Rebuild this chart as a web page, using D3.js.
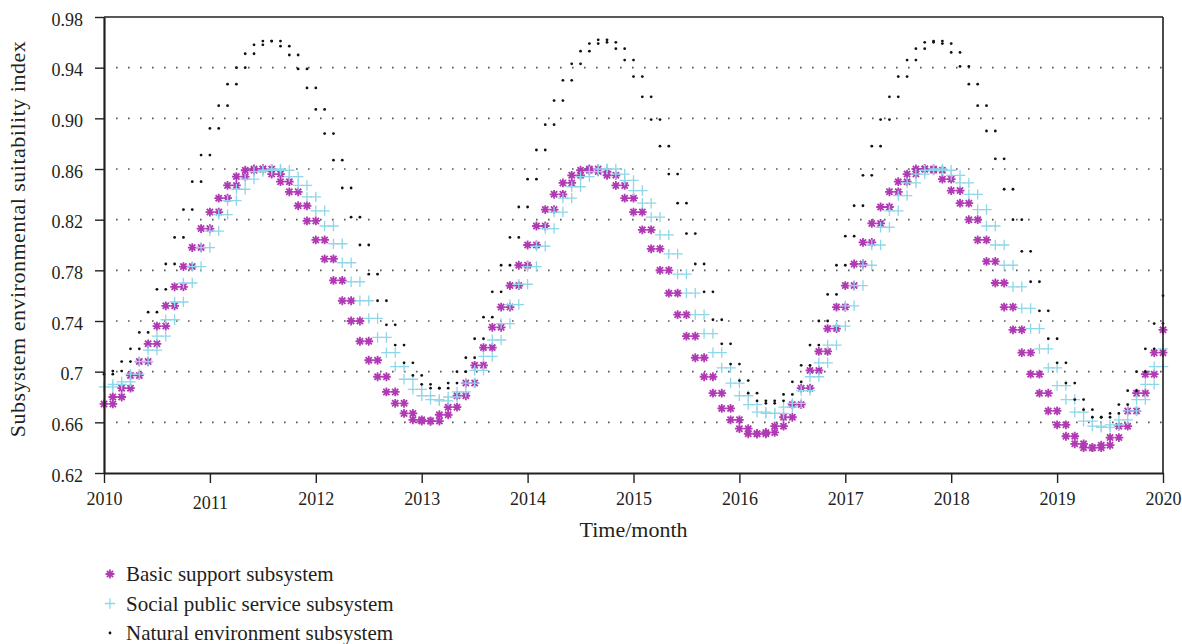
<!DOCTYPE html>
<html>
<head>
<meta charset="utf-8">
<script src="https://cdn.jsdelivr.net/npm/d3@7"></script>
<style>
  html, body { margin: 0; padding: 0; background: #fff; }
  svg { display: block; }
  text { font-family: "Liberation Serif", "Times New Roman", serif; fill: #231f20; }
</style>
</head>
<body>
<svg id="chart" width="1182" height="644"></svg>
<script>
// Monthly index values, January 2010 onwards (121 months, up to January 2020)
const basicSupport = [
  0.6745, 0.680, 0.687, 0.697, 0.708, 0.722, 0.736, 0.752, 0.767, 0.783, 0.798, 0.813,
  0.826, 0.837, 0.847, 0.854, 0.859, 0.860, 0.860, 0.856, 0.850, 0.842, 0.831, 0.819,
  0.804, 0.789, 0.772, 0.756, 0.740, 0.724, 0.709, 0.696, 0.684, 0.675, 0.667, 0.662,
  0.661, 0.661, 0.666, 0.672, 0.681, 0.691, 0.705, 0.719, 0.735, 0.751, 0.768, 0.784,
  0.800, 0.815, 0.828, 0.840, 0.849, 0.855, 0.859, 0.860, 0.858, 0.855, 0.847, 0.837,
  0.826, 0.812, 0.797, 0.780, 0.762, 0.745, 0.728, 0.711, 0.696, 0.683, 0.671, 0.662,
  0.655, 0.651, 0.651, 0.652, 0.657, 0.664, 0.674, 0.687, 0.701, 0.716, 0.734, 0.751,
  0.768, 0.785, 0.802, 0.817, 0.830, 0.842, 0.850, 0.856, 0.860, 0.860, 0.859, 0.852,
  0.843, 0.833, 0.820, 0.804, 0.787, 0.770, 0.751, 0.733, 0.715, 0.698, 0.683, 0.669,
  0.658, 0.649, 0.643, 0.640, 0.640, 0.642, 0.648, 0.657, 0.669, 0.683, 0.698, 0.715,
  0.733
];
const socialService = [
  0.688, 0.690, 0.692, 0.698, 0.708, 0.717, 0.728, 0.741, 0.755, 0.770, 0.783, 0.798,
  0.811, 0.824, 0.835, 0.844, 0.852, 0.858, 0.859, 0.860, 0.859, 0.854, 0.847, 0.838,
  0.827, 0.815, 0.801, 0.786, 0.771, 0.756, 0.742, 0.727, 0.715, 0.704, 0.694, 0.686,
  0.681, 0.678, 0.677, 0.680, 0.684, 0.691, 0.701, 0.712, 0.725, 0.738, 0.753, 0.769,
  0.783, 0.799, 0.813, 0.826, 0.837, 0.846, 0.854, 0.858, 0.860, 0.860, 0.856, 0.851,
  0.843, 0.833, 0.822, 0.808, 0.793, 0.777, 0.762, 0.745, 0.730, 0.715, 0.703, 0.691,
  0.681, 0.674, 0.668, 0.667, 0.667, 0.672, 0.675, 0.685, 0.696, 0.707, 0.721, 0.736,
  0.752, 0.768, 0.784, 0.800, 0.814, 0.827, 0.839, 0.849, 0.856, 0.859, 0.860, 0.859,
  0.855, 0.849, 0.840, 0.828, 0.815, 0.800, 0.784, 0.767, 0.750, 0.734, 0.718, 0.703,
  0.689, 0.678, 0.668, 0.661, 0.657, 0.656, 0.658, 0.662, 0.669, 0.678, 0.690, 0.704,
  0.718
];
const naturalEnv = [
  0.698, 0.7005, 0.708, 0.718, 0.731, 0.747, 0.765, 0.785, 0.806, 0.828, 0.850, 0.871,
  0.892, 0.910, 0.927, 0.940, 0.951, 0.958, 0.961, 0.961, 0.957, 0.950, 0.939, 0.924,
  0.907, 0.888, 0.867, 0.845, 0.822, 0.800, 0.777, 0.756, 0.737, 0.721, 0.707, 0.697,
  0.690, 0.687, 0.687, 0.691, 0.700, 0.711, 0.726, 0.743, 0.763, 0.784, 0.806, 0.830,
  0.852, 0.875, 0.895, 0.914, 0.930, 0.943, 0.953, 0.959, 0.962, 0.960, 0.955, 0.946,
  0.933, 0.917, 0.899, 0.878, 0.856, 0.833, 0.809, 0.785, 0.763, 0.741, 0.722, 0.706,
  0.693, 0.683, 0.677, 0.675, 0.677, 0.682, 0.692, 0.705, 0.721, 0.740, 0.761, 0.784,
  0.807, 0.831, 0.855, 0.878, 0.899, 0.917, 0.933, 0.946, 0.955, 0.960, 0.961, 0.959,
  0.952, 0.941, 0.927, 0.910, 0.890, 0.868, 0.844, 0.820, 0.795, 0.771, 0.748, 0.726,
  0.707, 0.691, 0.678, 0.670, 0.664, 0.664, 0.667, 0.674, 0.685, 0.700, 0.718, 0.738,
  0.760
];

const yearTicks = [2010, 2011, 2012, 2013, 2014, 2015, 2016, 2017, 2018, 2019, 2020];
const yTickValues = [0.98, 0.94, 0.90, 0.86, 0.82, 0.78, 0.74, 0.70, 0.66, 0.62];
const yTickLabels = ["0.98", "0.94", "0.90", "0.86", "0.82", "0.78", "0.74", "0.7", "0.66", "0.62"];

const seriesNames = ["Basic support subsystem", "Social public service subsystem", "Natural environment subsystem"];
const seriesColors = ["#b13ab4", "#8fd6e8", "#111111"];

const startYear = 2010;

const W = 1182, H = 644;
const margin = { top: 17, right: 19, bottom: 171, left: 104 };
const iw = W - margin.left - margin.right;
const ih = H - margin.top - margin.bottom;

const svg = d3.select("#chart");
const g = svg.append("g").attr("transform", `translate(${margin.left},${margin.top})`);

const x = d3.scaleLinear().domain([2010, 2020]).range([0, iw]);
const y = d3.scaleLinear().domain([0.62, 0.98]).range([ih, 0]);

// Dotted horizontal grid
g.append("g").selectAll("line")
  .data(yTickValues.filter(v => v < 0.979 && v > 0.621))
  .join("line")
  .attr("x1", 12).attr("x2", iw)
  .attr("y1", d => y(d)).attr("y2", d => y(d))
  .attr("stroke", "#555").attr("stroke-width", 1.6)
  .attr("stroke-dasharray", "1.6 10.4");

// Each monthly value is marked at the start and at the end of its month
function markPoints(values) {
  const pts = [];
  values.forEach((v, i) => {
    [i, i + 1].forEach(m => {
      const t = startYear + m / 12;
      if (t <= 2020 + 1e-9) pts.push({ t, v });
    });
  });
  return pts;
}

const asteriskPath = (() => {
  const r = 4.4, d = r * 0.7071;
  return `M${-r},0L${r},0M0,${-r}L0,${r}M${-d},${-d}L${d},${d}M${-d},${d}L${d},${-d}`;
})();
const plusPath = (() => {
  const r = 5.2;
  return `M${-r},0L${r},0M0,${-r}L0,${r}`;
})();

const plot = g.append("g");

plot.append("g").selectAll("path")
  .data(markPoints(basicSupport))
  .join("path")
  .attr("transform", d => `translate(${x(d.t)},${y(d.v)})`)
  .attr("d", asteriskPath)
  .attr("fill", "none")
  .attr("stroke", seriesColors[0])
  .attr("stroke-width", 1.8);

plot.append("g").selectAll("path")
  .data(markPoints(socialService))
  .join("path")
  .attr("transform", d => `translate(${x(d.t)},${y(d.v)})`)
  .attr("d", plusPath)
  .attr("fill", "none")
  .attr("stroke", seriesColors[1])
  .attr("stroke-width", 1.3);

plot.append("g").selectAll("circle")
  .data(markPoints(naturalEnv))
  .join("circle")
  .attr("cx", d => x(d.t))
  .attr("cy", d => y(d.v))
  .attr("r", 1.4)
  .attr("fill", seriesColors[2]);

// Frame: top and right edges
g.append("line").attr("x1", 0).attr("x2", iw).attr("y1", 0).attr("y2", 0)
  .attr("stroke", "#231f20").attr("stroke-width", 1.6);
g.append("line").attr("x1", iw).attr("x2", iw).attr("y1", 0).attr("y2", ih)
  .attr("stroke", "#231f20").attr("stroke-width", 1.6);

// Axes
const xAxis = d3.axisBottom(x).tickValues(yearTicks).tickFormat(d3.format("d"))
  .tickSizeInner(10).tickSizeOuter(0).tickPadding(8);
const yAxis = d3.axisLeft(y).tickValues(yTickValues)
  .tickFormat((d, i) => yTickLabels[i]).tickSizeInner(9).tickSizeOuter(0).tickPadding(12);

const gx = g.append("g").attr("transform", `translate(0,${ih})`).call(xAxis);
const gy = g.append("g").call(yAxis);

[gx, gy].forEach(a => {
  a.select(".domain").attr("stroke", "#231f20").attr("stroke-width", 2.2);
  a.selectAll(".tick line").attr("stroke", "#231f20").attr("stroke-width", 1.4);
  a.selectAll(".tick text").attr("fill", "#231f20")
    .style("font-family", '"Liberation Serif", serif').style("font-size", "18px");
});
gx.selectAll(".tick text").attr("dy", d => d === 2011 ? "1.0em" : "0.78em");
gy.selectAll(".tick text").attr("dy", "0.45em");

// Axis titles
g.append("text")
  .attr("x", iw / 2 + 0).attr("y", ih + 64)
  .attr("text-anchor", "middle")
  .style("font-size", "22px")
  .text("Time/month");

svg.append("text")
  .attr("transform", `translate(25,${margin.top + ih / 2 - 6}) rotate(-90)`)
  .attr("text-anchor", "middle")
  .style("font-size", "22px")
  .style("letter-spacing", "0.5px")
  .text("Subsystem environmental suitability index");

// Legend
const legendRows = [0, 1, 2];
const legend = svg.append("g").attr("transform", "translate(110,574)");
const row = legend.selectAll("g").data(legendRows).join("g")
  .attr("transform", d => `translate(0,${d * 29.5})`);
row.filter(d => d === 0).append("path").attr("d", asteriskPath)
  .attr("fill", "none").attr("stroke", seriesColors[0]).attr("stroke-width", 1.8);
row.filter(d => d === 1).append("path").attr("d", plusPath)
  .attr("fill", "none").attr("stroke", seriesColors[1]).attr("stroke-width", 1.3);
row.filter(d => d === 2).append("circle").attr("r", 1.4).attr("fill", seriesColors[2]);
row.append("text")
  .attr("x", 16).attr("dy", "0.35em")
  .style("font-size", "21px")
  .text(d => seriesNames[d]);
</script>
</body>
</html>
